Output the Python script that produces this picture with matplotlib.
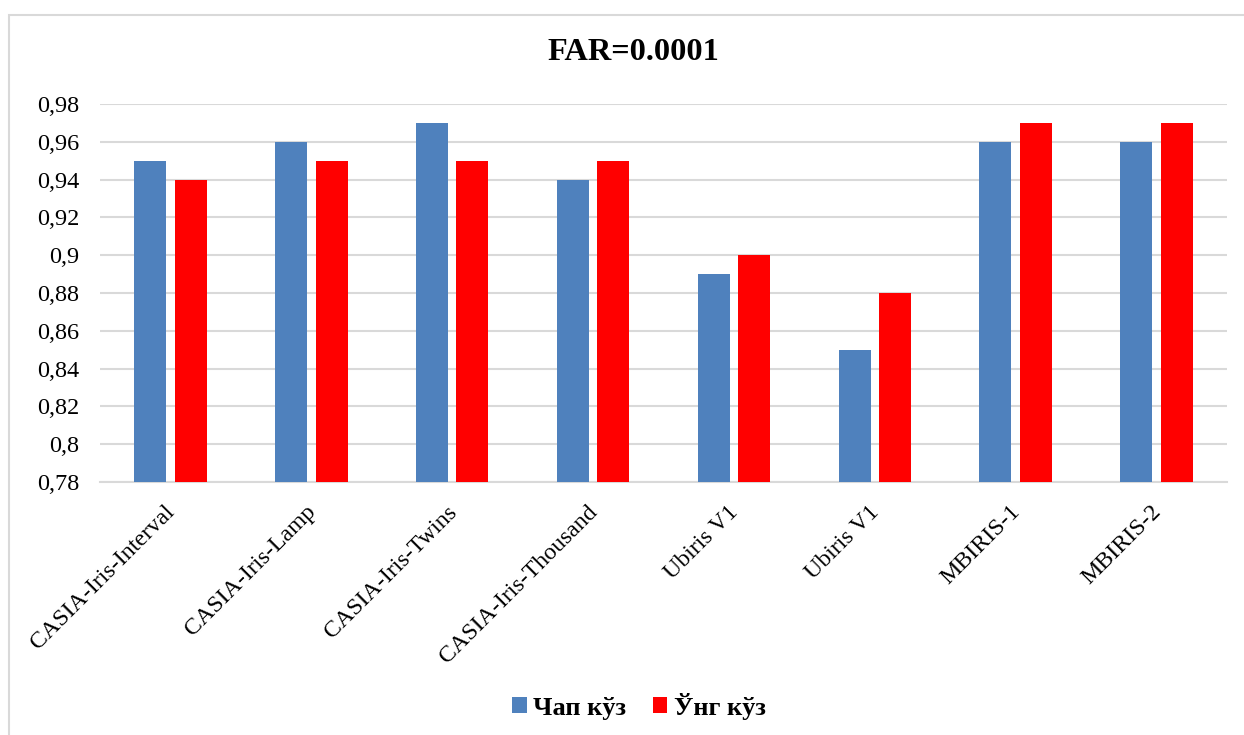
import matplotlib
matplotlib.use("Agg")
import matplotlib.pyplot as plt
import matplotlib.transforms as mtransforms
from matplotlib.patches import Rectangle
import numpy as np

categories = ["CASIA-Iris-Interval", "CASIA-Iris-Lamp", "CASIA-Iris-Twins",
              "CASIA-Iris-Thousand", "Ubiris V1", "Ubiris V1", "MBIRIS-1", "MBIRIS-2"]
left_eye = [0.95, 0.96, 0.97, 0.94, 0.89, 0.85, 0.96, 0.96]
right_eye = [0.94, 0.95, 0.95, 0.95, 0.90, 0.88, 0.97, 0.97]
series_names = ["Чап кўз", "Ўнг кўз"]
y_ticks = [0.78, 0.80, 0.82, 0.84, 0.86, 0.88, 0.90, 0.92, 0.94, 0.96, 0.98]
title = "FAR=0.0001"

plt.rcParams["font.family"] = ["Liberation Serif", "DejaVu Serif"]

W, H = 1244, 735
fig = plt.figure(figsize=(W / 100, H / 100), dpi=100)
fig.patch.set_facecolor("white")

# chart frame (open to the right and bottom edges)
fig.patches.append(Rectangle((9 / W, -0.2), 1.2, 1.2 - 15 / H,
                             transform=fig.transFigure, fill=False,
                             edgecolor="#D9D9D9", linewidth=1.5))

ax = fig.add_axes([100 / W, 1 - 482 / H, (1227 - 100) / W, (482 - 104) / H])

x = np.arange(len(categories))
width = 0.227
off = 0.144
ax.bar(x - off, left_eye, width, color="#4F81BD", label=series_names[0], zorder=3)
ax.bar(x + off, right_eye, width, color="#FF0000", label=series_names[1], zorder=3)

ax.set_xlim(-0.5, len(categories) - 0.5)
ax.set_ylim(0.78, 0.98)
ax.set_yticks(y_ticks)
ax.set_yticklabels([("%g" % v).replace(".", ",") for v in y_ticks], fontsize=17.5)
ax.set_xticks(x)
ax.set_xticklabels(categories, rotation=45, ha="right", va="top",
                   rotation_mode="anchor", fontsize=17.2)
ax.tick_params(axis="both", length=0)
ax.tick_params(axis="y", pad=15)
ax.tick_params(axis="x", pad=14)
shift = mtransforms.ScaledTranslation(-0.06, 0, fig.dpi_scale_trans)
for lbl in ax.get_xticklabels():
    lbl.set_transform(lbl.get_transform() + shift)

ax.grid(axis="y", color="#D9D9D9", linewidth=1.5, zorder=0)
for s in ["left", "right", "top"]:
    ax.spines[s].set_visible(False)
ax.spines["bottom"].set_color("#D9D9D9")
ax.spines["bottom"].set_linewidth(1.5)

fig.text(633 / W, 1 - 53 / H, title, ha="center", va="center",
         fontsize=23.3, fontweight="bold")

fig.legend(loc="center", bbox_to_anchor=(639 / W, 1 - 706 / H), ncol=2,
           frameon=False, prop={"size": 19, "weight": "bold"},
           handlelength=0.55, handleheight=0.55, handletextpad=0.25,
           columnspacing=1.0)

fig.savefig("out.png", dpi=100, facecolor="white")
